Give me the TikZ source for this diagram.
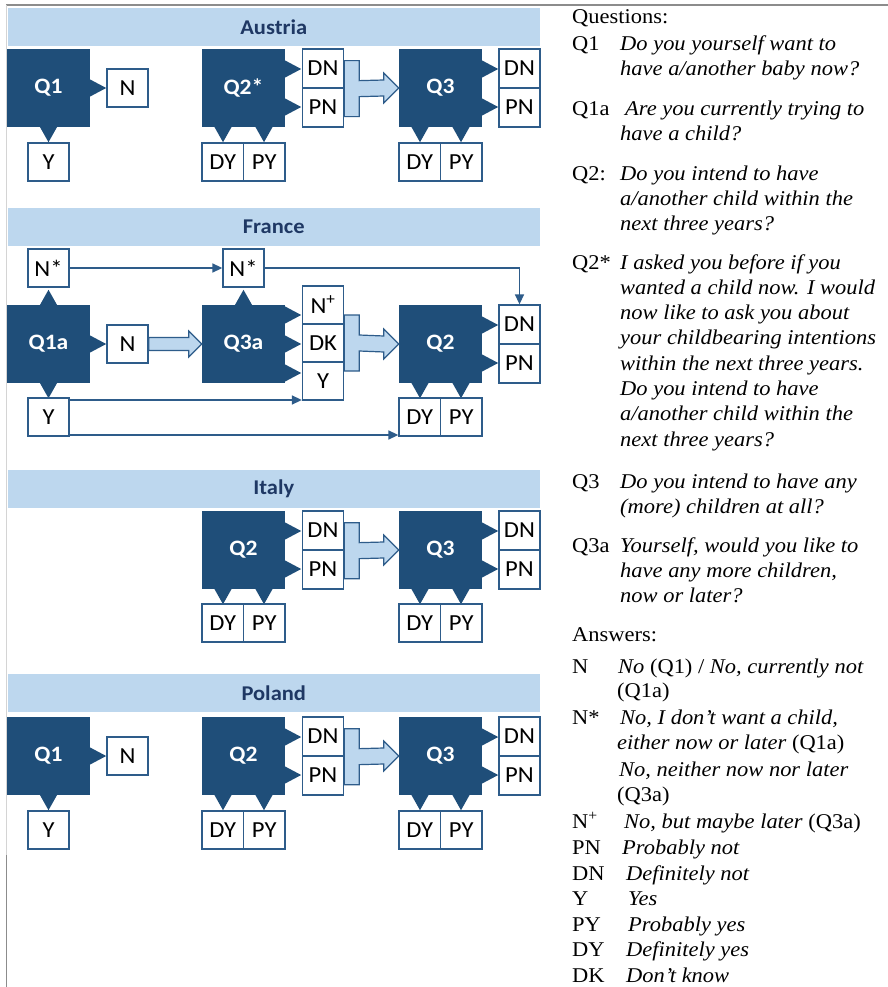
\documentclass[tikz,border=0pt]{standalone}
\usepackage{fontspec}
\setmainfont{Liberation Serif}
\newfontfamily\carlito{Carlito}
\usetikzlibrary{arrows.meta,calc}
\definecolor{qblue}{HTML}{1F4E79}
\definecolor{bblue}{HTML}{2E5C8A}
\definecolor{hdr}{HTML}{BDD7EE}
\definecolor{hdrtext}{HTML}{1F3864}
\definecolor{frameA}{HTML}{D4D4D4}
\definecolor{frameB}{HTML}{8C8C8C}
\newcommand\sx[1]{\scalebox{1.07}[1]{#1}}
% pointers of the question blocks (right, bottom, top)
\newcommand\rp[1]{\fill[qblue] (#1) ++(-1,-9) -- ++(17,9) -- ++(-17,9) -- cycle;}
\newcommand\bp[1]{\fill[qblue] (#1) ++(-9,-1) -- ++(9,16) -- ++(9,-16) -- cycle;}
\newcommand\tp[1]{\fill[qblue] (#1) ++(-9,1) -- ++(9,-16) -- ++(9,16) -- cycle;}
% bracket block arrow: #1 left point (box edge, centre height), #2 tip
\newcommand\brk[2]{\draw[barrow] ($(#1)+(0,-28)$) -- ++(15,0) -- ++(0,20) -- ($(#2)+(-15,-8)$) -- ++(0,-7) -- (#2) -- ++(-15,15) -- ++(0,-7) -- ($(#1)+(15,8)$) -- ++(0,20) -- ++(-15,0) -- cycle;}
\begin{document}
\begin{tikzpicture}[x=1pt,y=-1pt,
  qblock/.style={fill=qblue, minimum width=83pt, minimum height=78pt, inner sep=0pt, text=white, font=\carlito\bfseries\fontsize{22}{22}\selectfont},
  abox/.style={draw=bblue, line width=1.3pt, fill=white, minimum width=41pt, minimum height=38pt, inner sep=0pt, font=\carlito\fontsize{23}{23}\selectfont},
  dnbox/.style={minimum height=39pt},
  ybox/.style={minimum width=41.5pt},
  hbar/.style={fill=hdr, minimum width=532.5pt, minimum height=38pt, inner sep=0pt, text=hdrtext, font=\carlito\bfseries\fontsize{21}{21}\selectfont},
  conn/.style={draw=bblue, line width=1.5pt, -{Triangle[length=10pt,width=9pt]}},
  barrow/.style={fill=hdr, draw=bblue, line width=1.2pt, line join=miter},
  qtext/.style={anchor=base west, inner sep=0pt, font=\fontsize{21}{25}\selectfont},
]
\useasboundingbox (0,0) rectangle (888,987);
\fill[white] (0,0) rectangle (888,987);
% frame lines
\draw[frameB, line width=1.2pt] (6,5) -- (888,5);
\draw[frameA, line width=1.2pt] (6.5,5) -- (6.5,855);
\draw[frameB, line width=1.2pt] (6.5,855) -- (6.5,987);

% ================= Austria =================
\node[hbar] (aH) at (273.75,27) {\sx{Austria}};
\node[qblock] (aQ1) at (48.5,88) {\sx{Q1}};
\node[qblock] (aQ2) at (243.5,88) {\sx{Q2*}};
\node[qblock] (aQ3) at (440.5,88) {\sx{Q3}};
\rp{aQ1.east} \bp{aQ1.south}
\rp{[yshift=19pt]aQ2.east} \rp{[yshift=-19pt]aQ2.east}
\bp{[xshift=-20.5pt]aQ2.south} \bp{[xshift=20.5pt]aQ2.south}
\rp{[yshift=19pt]aQ3.east} \rp{[yshift=-19pt]aQ3.east}
\bp{[xshift=-20.5pt]aQ3.south} \bp{[xshift=20.5pt]aQ3.south}
\node[abox] (aN) at (127.5,88) {\sx{N}};
\node[abox] (aY) at (48.5,162) {\sx{Y}};
\node[abox,dnbox] (aDN) at (323,68.5) {\sx{DN}};
\node[abox,dnbox] (aPN) at (323,107.5) {\sx{PN}};
\node[abox,ybox] (aDY) at (222.75,162) {\sx{DY}};
\node[abox,ybox] (aPY) at (264.25,162) {\sx{PY}};
\node[abox,dnbox] (aDN3) at (519.5,68.5) {\sx{DN}};
\node[abox,dnbox] (aPN3) at (519.5,107.5) {\sx{PN}};
\node[abox,ybox] (aDY3) at (419.75,162) {\sx{DY}};
\node[abox,ybox] (aPY3) at (461.25,162) {\sx{PY}};
\brk{aDN.south east}{aQ3.west}

% ================= France =================
\node[hbar] (fH) at (273.75,227) {\sx{France}};
\node[qblock] (fQ1a) at (48.5,344) {\sx{Q1a}};
\node[qblock] (fQ3a) at (243.5,344) {\sx{Q3a}};
\node[qblock] (fQ2) at (440.5,344) {\sx{Q2}};
\tp{fQ1a.north} \rp{fQ1a.east} \bp{fQ1a.south}
\tp{fQ3a.north}
\rp{[yshift=29pt]fQ3a.east} \rp{fQ3a.east} \rp{[yshift=-29pt]fQ3a.east}
\rp{[yshift=19pt]fQ2.east} \rp{[yshift=-19pt]fQ2.east}
\bp{[xshift=-20.5pt]fQ2.south} \bp{[xshift=20.5pt]fQ2.south}
\node[abox] (fNs1) at (48.5,268) {\sx{N*}};
\node[abox] (fN) at (127.5,344) {\sx{N}};
\node[abox] (fY) at (48.5,417) {\sx{Y}};
\node[abox] (fNs2) at (243.5,268) {\sx{N*}};
\node[abox] (fNp) at (323,305) {\sx{N\textsuperscript{+}}};
\node[abox] (fDK) at (323,343) {\sx{DK}};
\node[abox] (fY2) at (323,381) {\sx{Y}};
\node[abox,dnbox] (fDN) at (519.5,324.5) {\sx{DN}};
\node[abox,dnbox] (fPN) at (519.5,363.5) {\sx{PN}};
\node[abox,ybox] (fDY) at (419.75,417) {\sx{DY}};
\node[abox,ybox] (fPY) at (461.25,417) {\sx{PY}};
\draw[barrow] ([yshift=6.5pt]fN.east) -- ($(fQ3a.west)+(-13,-6.5)$) -- ++(0,-6.5) -- (fQ3a.west) -- ++(-13,13) -- ++(0,-6.5) -- ([yshift=-6.5pt]fN.east) -- cycle;
\brk{fDK.east}{fQ2.west}
\draw[conn] (fNs1) -- (fNs2);
\draw[conn] (fNs2.east) -| (fDN.north);
\coordinate (fYa) at ([yshift=17pt]fY.east);
\coordinate (fYb) at ([yshift=-18pt]fY.east);
\draw[conn] (fYa) -- (fYa -| fY2.west);
\draw[conn] (fYb) -- (fYb -| fDY.west);

% ================= Italy =================
\node[hbar] (iH) at (273.75,489) {\sx{Italy}};
\node[qblock] (iQ2) at (243.5,550) {\sx{Q2}};
\node[qblock] (iQ3) at (440.5,550) {\sx{Q3}};
\rp{[yshift=19pt]iQ2.east} \rp{[yshift=-19pt]iQ2.east}
\bp{[xshift=-20.5pt]iQ2.south} \bp{[xshift=20.5pt]iQ2.south}
\rp{[yshift=19pt]iQ3.east} \rp{[yshift=-19pt]iQ3.east}
\bp{[xshift=-20.5pt]iQ3.south} \bp{[xshift=20.5pt]iQ3.south}
\node[abox,dnbox] (iDN) at (323,530.5) {\sx{DN}};
\node[abox,dnbox] (iPN) at (323,569.5) {\sx{PN}};
\node[abox,ybox] (iDY) at (222.75,623) {\sx{DY}};
\node[abox,ybox] (iPY) at (264.25,623) {\sx{PY}};
\node[abox,dnbox] (iDN3) at (519.5,530.5) {\sx{DN}};
\node[abox,dnbox] (iPN3) at (519.5,569.5) {\sx{PN}};
\node[abox,ybox] (iDY3) at (419.75,623) {\sx{DY}};
\node[abox,ybox] (iPY3) at (461.25,623) {\sx{PY}};
\brk{iDN.south east}{iQ3.west}

% ================= Poland =================
\node[hbar] (pH) at (273.75,693) {\sx{Poland}};
\node[qblock] (pQ1) at (48.5,756) {\sx{Q1}};
\node[qblock] (pQ2) at (243.5,756) {\sx{Q2}};
\node[qblock] (pQ3) at (440.5,756) {\sx{Q3}};
\rp{pQ1.east} \bp{pQ1.south}
\rp{[yshift=19pt]pQ2.east} \rp{[yshift=-19pt]pQ2.east}
\bp{[xshift=-20.5pt]pQ2.south} \bp{[xshift=20.5pt]pQ2.south}
\rp{[yshift=19pt]pQ3.east} \rp{[yshift=-19pt]pQ3.east}
\bp{[xshift=-20.5pt]pQ3.south} \bp{[xshift=20.5pt]pQ3.south}
\node[abox] (pN) at (127.5,756) {\sx{N}};
\node[abox] (pY) at (48.5,830) {\sx{Y}};
\node[abox,dnbox] (pDN) at (323,736.5) {\sx{DN}};
\node[abox,dnbox] (pPN) at (323,775.5) {\sx{PN}};
\node[abox,ybox] (pDY) at (222.75,830) {\sx{DY}};
\node[abox,ybox] (pPY) at (264.25,830) {\sx{PY}};
\node[abox,dnbox] (pDN3) at (519.5,736.5) {\sx{DN}};
\node[abox,dnbox] (pPN3) at (519.5,775.5) {\sx{PN}};
\node[abox,ybox] (pDY3) at (419.75,830) {\sx{DY}};
\node[abox,ybox] (pPY3) at (461.25,830) {\sx{PY}};
\brk{pDN.south east}{pQ3.west}

% ================= Legend text =================
\node[qtext] (t0) at (572,24) {\sx{Questions:}};
\node[qtext] (t1l) at (572,51) {\sx{Q1}};
\node[qtext] (t1a) at (620,51) {\sx{\textit{Do you yourself want to}}};
\node[qtext] (t1b) at (620,76) {\sx{\textit{have a/another baby now?}}};
\node[qtext] (t2l) at (572,116) {\sx{Q1a}};
\node[qtext] (t2a) at (625,116) {\sx{\textit{Are you currently trying to}}};
\node[qtext] (t2b) at (620,141) {\sx{\textit{have a child?}}};
\node[qtext] (t3l) at (572,181) {\sx{Q2:}};
\node[qtext] (t3a) at (620,181) {\sx{\textit{Do you intend to have}}};
\node[qtext] (t3b) at (620,205.5) {\sx{\textit{a/another child within the}}};
\node[qtext] (t3c) at (620,230) {\sx{\textit{next three years?}}};
\node[qtext] (t4l) at (572,269) {\sx{Q2*}};
\node[qtext] (t4a) at (620,269) {\sx{\textit{I asked you before if you}}};
\node[qtext] (t4b) at (620,294.3) {\sx{\textit{wanted a child now. I would}}};
\node[qtext] (t4c) at (620,319.6) {\sx{\textit{now like to ask you about}}};
\node[qtext] (t4d) at (620,344.9) {\sx{\textit{your childbearing intentions}}};
\node[qtext] (t4e) at (620,370.2) {\sx{\textit{within the next three years.}}};
\node[qtext] (t4f) at (620,395.5) {\sx{\textit{Do you intend to have}}};
\node[qtext] (t4g) at (620,420.8) {\sx{\textit{a/another child within the}}};
\node[qtext] (t4h) at (620,446.1) {\sx{\textit{next three years?}}};
\node[qtext] (t5l) at (572,488) {\sx{Q3}};
\node[qtext] (t5a) at (620,488) {\sx{\textit{Do you intend to have any}}};
\node[qtext] (t5b) at (620,513) {\sx{\textit{(more) children at all?}}};
\node[qtext] (t6l) at (572,552) {\sx{Q3a}};
\node[qtext] (t6a) at (620,552) {\sx{\textit{Yourself, would you like to}}};
\node[qtext] (t6b) at (620,577) {\sx{\textit{have any more children,}}};
\node[qtext] (t6c) at (620,602) {\sx{\textit{now or later?}}};
\node[qtext] (s0) at (572,641) {\sx{Answers:}};
\node[qtext] (s1l) at (572,673) {\sx{N}};
\node[qtext] (s1a) at (618,673) {\sx{\textit{No} (Q1) / \textit{No, currently not}}};
\node[qtext] (s1b) at (617,697) {\sx{(Q1a)}};
\node[qtext] (s2l) at (572,724) {\sx{N*}};
\node[qtext] (s2a) at (620,724) {\sx{\textit{No, I don’t want a child,}}};
\node[qtext] (s2b) at (617,749) {\sx{\textit{either now or later} (Q1a)}};
\node[qtext] (s2c) at (619,776) {\sx{\textit{No, neither now nor later}}};
\node[qtext] (s2d) at (617,801) {\sx{(Q3a)}};
\node[qtext] (s3l) at (572,828) {\sx{N\textsuperscript{+}}};
\node[qtext] (s3a) at (624,828) {\sx{\textit{No, but maybe later} (Q3a)}};
\node[qtext] (s4l) at (572,854) {\sx{PN}};
\node[qtext] (s4a) at (622,854) {\sx{\textit{Probably not}}};
\node[qtext] (s5l) at (572,880) {\sx{DN}};
\node[qtext] (s5a) at (626,880) {\sx{\textit{Definitely not}}};
\node[qtext] (s6l) at (572,905) {\sx{Y}};
\node[qtext] (s6a) at (628,905) {\sx{\textit{Yes}}};
\node[qtext] (s7l) at (572,931) {\sx{PY}};
\node[qtext] (s7a) at (628,931) {\sx{\textit{Probably yes}}};
\node[qtext] (s8l) at (572,956) {\sx{DY}};
\node[qtext] (s8a) at (626,956) {\sx{\textit{Definitely yes}}};
\node[qtext] (s9l) at (572,982) {\sx{DK}};
\node[qtext] (s9a) at (626,982) {\sx{\textit{Don’t know}}};
\end{tikzpicture}
\end{document}
